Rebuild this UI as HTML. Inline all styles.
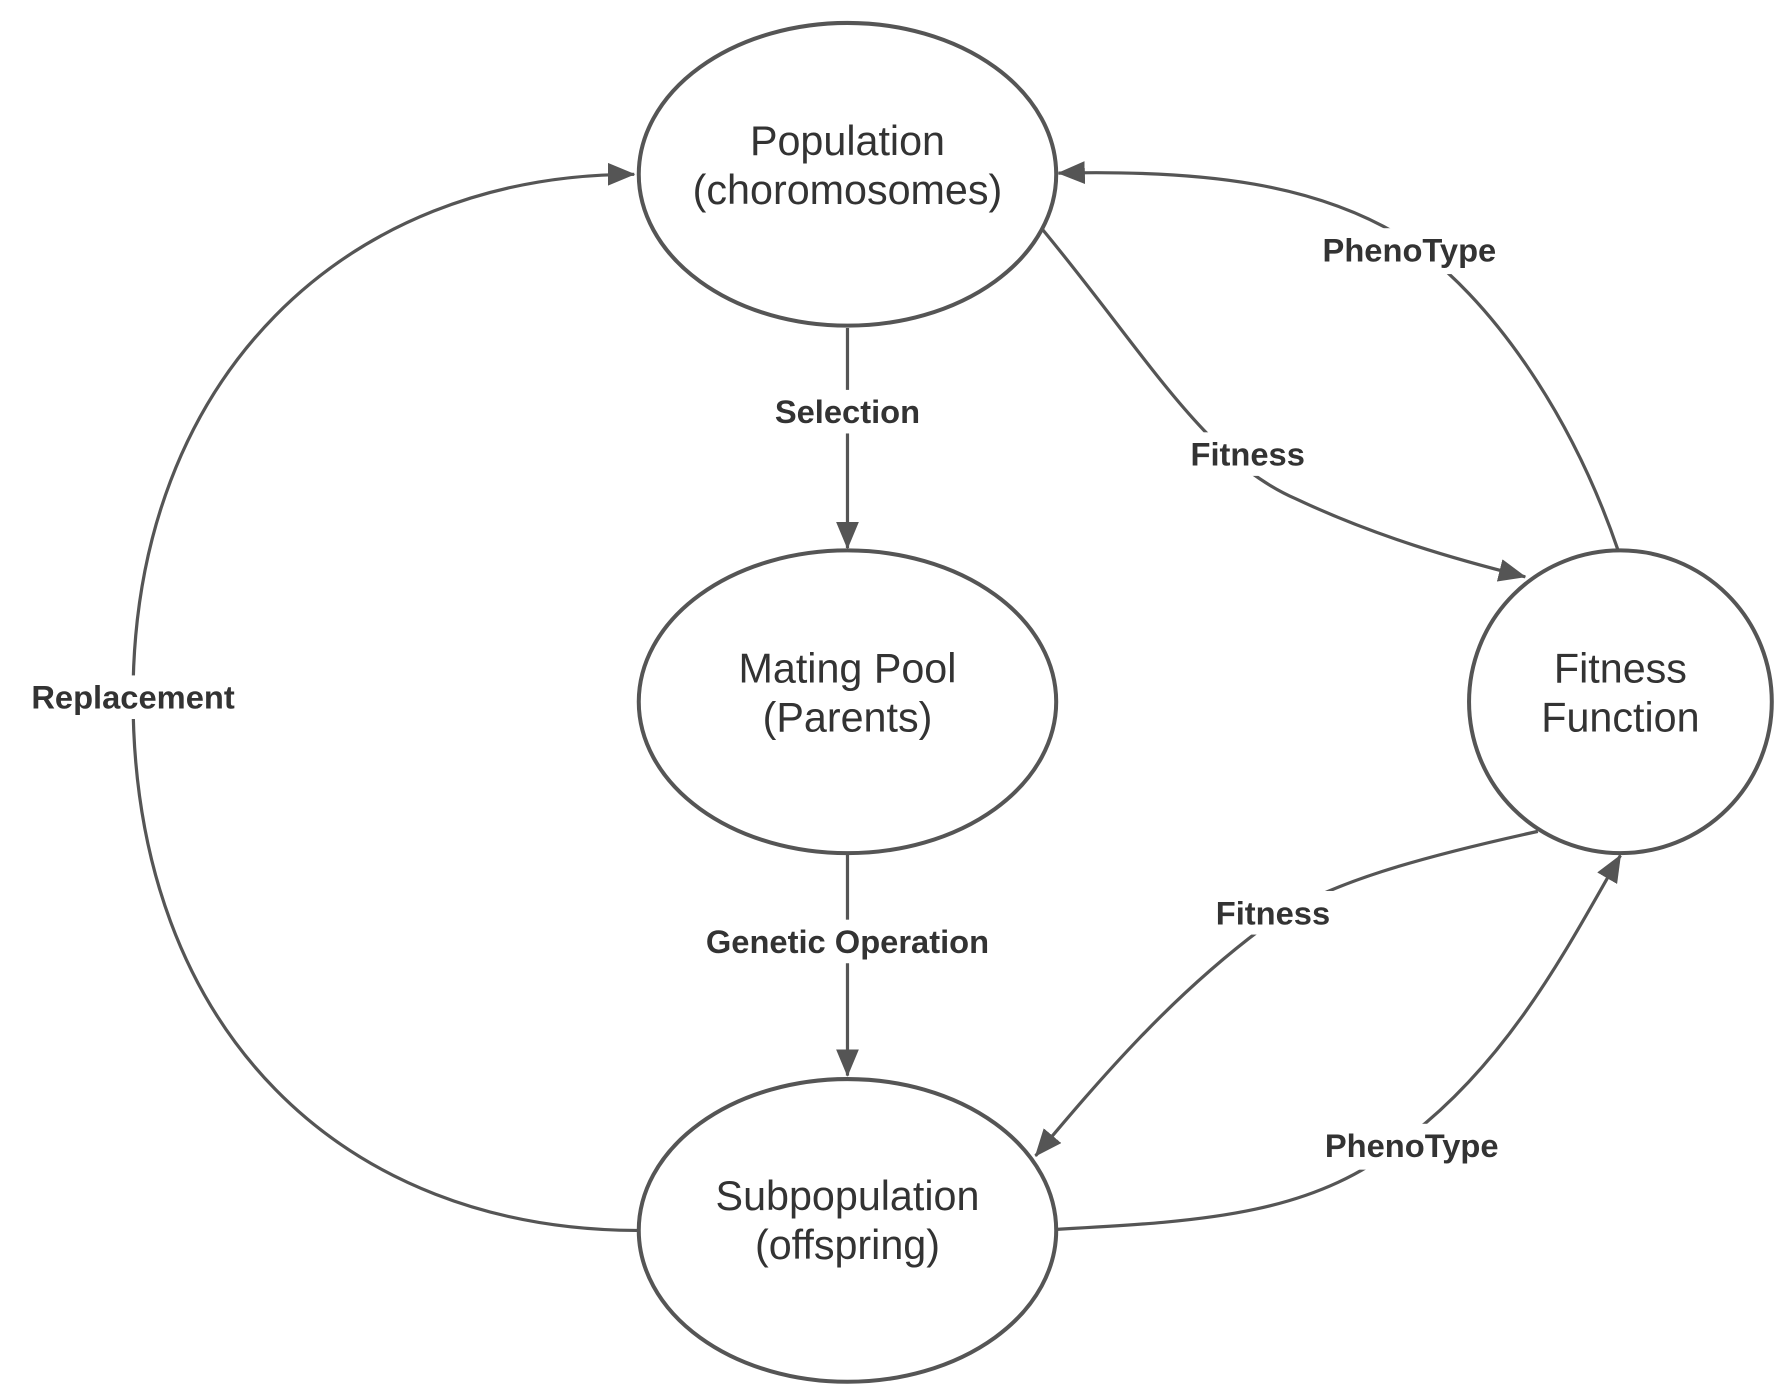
<!DOCTYPE html>
<html><head><meta charset="utf-8"><style>
html,body{margin:0;padding:0;background:#fff;}
svg{display:block;}
.n{font-family:"Liberation Sans",sans-serif;font-size:36px;fill:#333;text-anchor:middle;}
.l{font-family:"Liberation Sans",sans-serif;font-size:28.5px;font-weight:bold;fill:#333;text-anchor:middle;}
</style></head><body>
<svg width="1789" height="1399" viewBox="0 0 1560 1220" preserveAspectRatio="none" xmlns="http://www.w3.org/2000/svg">
<defs>
<marker id="m" viewBox="0 0 24 20" refX="23" refY="10" markerWidth="24" markerHeight="20" markerUnits="userSpaceOnUse" orient="auto">
<path d="M0,0 L24,10 L0,20 Z" fill="#555"/>
</marker>
</defs>
<g fill="none" stroke="#555" stroke-width="2.8">
<path d="M739,286 L739,478" marker-end="url(#m)"/>
<path d="M739,745 L739,938" marker-end="url(#m)"/>
<path d="M557,1073 C300,1073 116,900 116,608 C116,330 300,152 553,152" marker-end="url(#m)"/>
<path d="M909,200 C1000,310 1050,400 1130,435 C1200,468 1270,488 1330,503" marker-end="url(#m)"/>
<path d="M1411,480 C1370,360 1300,260 1228,210 C1150,160 1050,148 923,151" marker-end="url(#m)"/>
<path d="M1341,725 C1250,745 1150,770 1100,810 C1020,870 960,940 903,1008" marker-end="url(#m)"/>
<path d="M922,1072 C1050,1065 1150,1060 1230,990 C1320,920 1370,820 1413,746" marker-end="url(#m)"/>
</g>
<g fill="#fff" stroke="#555" stroke-width="3.5">
<ellipse cx="739" cy="152" rx="182" ry="132"/>
<ellipse cx="739" cy="612" rx="182" ry="132"/>
<ellipse cx="739" cy="1073" rx="182" ry="132"/>
<ellipse cx="1413" cy="612" rx="132" ry="132"/>
</g>
<text class="n" x="739" y="135">Population</text>
<text class="n" x="739" y="178">(choromosomes)</text>
<text class="n" x="739" y="595">Mating Pool</text>
<text class="n" x="739" y="638">(Parents)</text>
<text class="n" x="739" y="1055">Subpopulation</text>
<text class="n" x="739" y="1098">(offspring)</text>
<text class="n" x="1413" y="595">Fitness</text>
<text class="n" x="1413" y="638">Function</text>
<g>
<rect x="662" y="340" width="154" height="38" fill="#fff"/>
<text class="l" x="739" y="369">Selection</text>
<rect x="600" y="802" width="278" height="38" fill="#fff"/>
<text class="l" x="739" y="831">Genetic Operation</text>
<rect x="14" y="589" width="204" height="38" fill="#fff"/>
<text class="l" x="116" y="618">Replacement</text>
<rect x="1024" y="377" width="128" height="38" fill="#fff"/>
<text class="l" x="1088" y="406">Fitness</text>
<rect x="1140" y="199" width="178" height="40" fill="#fff"/>
<text class="l" x="1229" y="228">PhenoType</text>
<rect x="1046" y="777" width="128" height="38" fill="#fff"/>
<text class="l" x="1110" y="806">Fitness</text>
<rect x="1142" y="980" width="178" height="40" fill="#fff"/>
<text class="l" x="1231" y="1009">PhenoType</text>
</g>
</svg>
</body></html>
